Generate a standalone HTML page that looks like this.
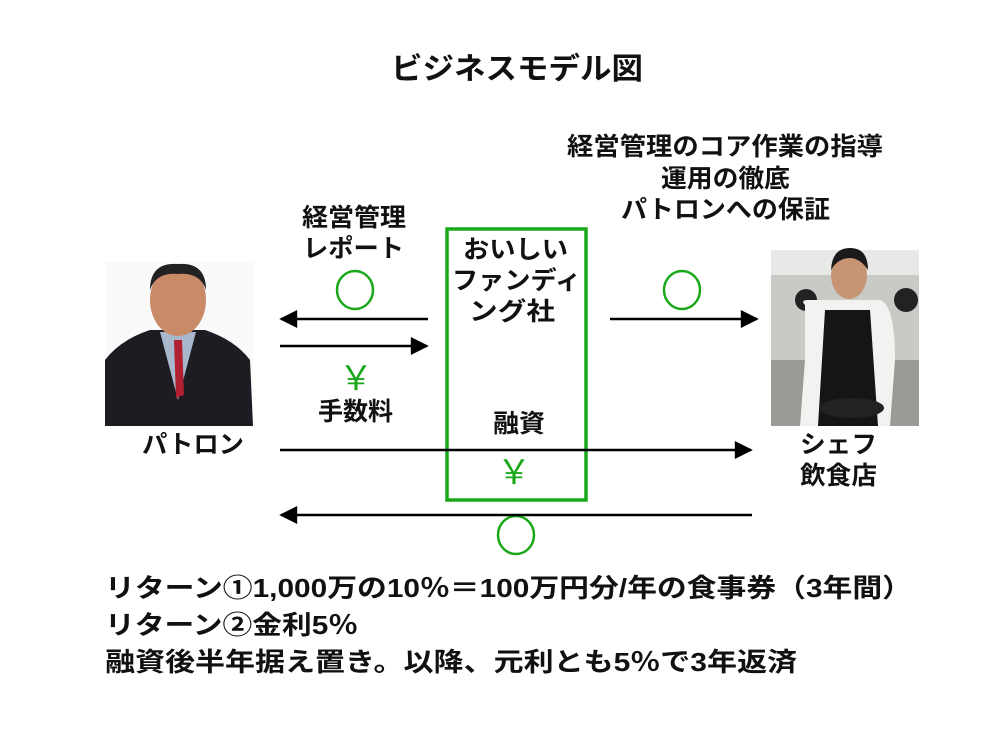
<!DOCTYPE html>
<html><head><meta charset="utf-8"><style>
body{margin:0;background:#fff;}
svg text{font-family:"Liberation Sans","Noto Sans CJK JP",sans-serif;font-weight:bold;fill:#111;}
</style></head><body>
<svg width="1003" height="728" xmlns="http://www.w3.org/2000/svg">
<defs>
<marker id="b" viewBox="0 0 10 10" markerWidth="20" markerHeight="18" refX="9" refY="5" orient="auto" markerUnits="userSpaceOnUse"><path d="M0,0 L10,5 L0,10 Z" fill="#000"/></marker></defs>
<text x="391" y="79" font-size="30" textLength="252" lengthAdjust="spacingAndGlyphs">ビジネスモデル図</text>
<g font-size="25" lengthAdjust="spacingAndGlyphs">
<text x="567" y="155" textLength="316" lengthAdjust="spacingAndGlyphs">経営管理のコア作業の指導</text>
<text x="661" y="187" textLength="129" lengthAdjust="spacingAndGlyphs">運用の徹底</text>
<text x="621" y="218" textLength="209" lengthAdjust="spacingAndGlyphs">パトロンへの保証</text>
<text x="302" y="226" textLength="104" lengthAdjust="spacingAndGlyphs">経営管理</text>
<text x="303" y="257" textLength="101" lengthAdjust="spacingAndGlyphs">レポート</text>
<text x="463" y="258" textLength="105" lengthAdjust="spacingAndGlyphs">おいしい</text>
<text x="452" y="289" textLength="129" lengthAdjust="spacingAndGlyphs">ファンディ</text>
<text x="469" y="320" textLength="86" lengthAdjust="spacingAndGlyphs">ング社</text>
<text x="318" y="420" textLength="75" lengthAdjust="spacingAndGlyphs">手数料</text>
<text x="142" y="453" textLength="102" lengthAdjust="spacingAndGlyphs">パトロン</text>
<text x="493" y="432" textLength="52" lengthAdjust="spacingAndGlyphs">融資</text>
<text x="800" y="453" textLength="77" lengthAdjust="spacingAndGlyphs">シェフ</text>
<text x="800" y="484" textLength="77" lengthAdjust="spacingAndGlyphs">飲食店</text>
</g>
<rect x="447" y="229" width="139" height="271" fill="none" stroke="#1aa81a" stroke-width="3.5"/>
<g fill="none" stroke="#1aa81a" stroke-width="2.5">
<ellipse cx="355" cy="290" rx="18" ry="19"/>
<ellipse cx="682" cy="290" rx="18" ry="19"/>
<ellipse cx="516" cy="535" rx="18" ry="19"/>
</g>
<g font-size="34" text-anchor="middle">
<text x="356" y="390" style="fill:#1aa81a;font-weight:normal">￥</text>
<text x="514" y="484" style="fill:#1aa81a;font-weight:normal">￥</text>
</g>
<g stroke="#000" stroke-width="2.5" marker-end="url(#b)">
<line x1="428" y1="319" x2="281" y2="319"/>
<line x1="280" y1="346" x2="427" y2="346"/>
<line x1="610" y1="319" x2="757" y2="319"/>
<line x1="280" y1="450" x2="751" y2="450"/>
<line x1="752" y1="515" x2="281" y2="515"/>
</g>
<g>
<rect x="105" y="262" width="148" height="164" fill="#fafafa"/>
<path d="M105,426 L105,360 Q120,340 150,330 L205,330 Q235,340 250,360 L253,426 Z" fill="#1c1c22"/>
<path d="M160,332 L178,400 L196,332 Z" fill="#a9b7cc"/>
<path d="M174,340 L182,340 L184,395 L176,398 Z" fill="#b02030"/>
<ellipse cx="178" cy="300" rx="28" ry="36" fill="#c98a68"/>
<path d="M150,290 Q150,262 178,264 Q206,262 206,290 Q200,272 178,274 Q156,272 150,290Z" fill="#222"/>
</g>
<g>
<rect x="771" y="250" width="148" height="176" fill="#c9c9c6"/>
<rect x="771" y="250" width="148" height="25" fill="#e8e8e6"/>
<rect x="771" y="360" width="148" height="66" fill="#9a9a96"/>
<circle cx="806" cy="300" r="11" fill="#222"/>
<circle cx="906" cy="300" r="12" fill="#222"/>
<path d="M805,305 Q800,300 808,300 L880,300 Q895,305 895,360 L890,426 L800,426 L805,360Z" fill="#f2f2f0"/>
<path d="M825,310 L870,310 L878,426 L818,426 Z" fill="#151515"/>
<ellipse cx="849" cy="275" rx="18" ry="24" fill="#c79474"/>
<path d="M831,270 Q832,248 850,248 Q868,248 868,270 Q860,258 850,258 Q838,258 831,270Z" fill="#1a1a1a"/>
<ellipse cx="852" cy="408" rx="32" ry="10" fill="#222"/>
</g>
<g font-size="26">
<text x="105" y="597" textLength="807" lengthAdjust="spacingAndGlyphs">リターン①1,000万の10％＝100万円分/年の食事券（3年間）</text>
<text x="105" y="634" textLength="253" lengthAdjust="spacingAndGlyphs">リターン②金利5％</text>
<text x="105" y="671" textLength="692" lengthAdjust="spacingAndGlyphs">融資後半年据え置き。以降、元利とも5％で3年返済</text>
</g>
</svg>
</body></html>
